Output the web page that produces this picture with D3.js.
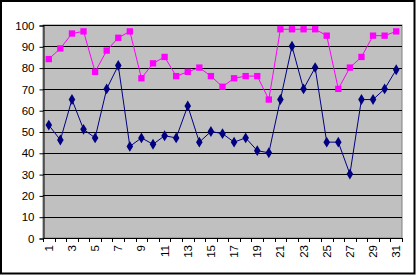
<!DOCTYPE html>
<html><head><meta charset="utf-8">
<script src="https://cdn.jsdelivr.net/npm/d3@7"></script>
<style>html,body{margin:0;padding:0;background:#fff;}svg{display:block;}</style>
</head><body>
<svg id="chart" width="418" height="276"></svg>
<script>
const categories = d3.range(1, 32).map(String);
const seriesPink = [84,89,96,97,78,88,94,97,75,82,85,76,78,80,76,71,75,76,76,65,98,98,98,98,95,70,80,85,95,95,97];
const seriesBlue = [53,46,65,51,47,70,81,43,47,44,48,47,62,45,50,49,45,47,41,40,65,90,70,80,45,45,30,65,65,70,79];
const yTicks = [0,10,20,30,40,50,60,70,80,90,100];

const svg = d3.select("#chart");
const L = 43, R = 402, T = 25, B = 238;

svg.append("rect").attr("x",1).attr("y",1).attr("width",413.5).attr("height",272.5)
  .attr("fill","#fff").attr("stroke","#000").attr("stroke-width",2);

const x = d3.scaleBand().domain(categories).range([L, R]).padding(0);
const y = d3.scaleLinear().domain([0,100]).range([B, T]);

svg.append("rect").attr("x",L).attr("y",T).attr("width",R-L).attr("height",B-T)
  .attr("fill","#C0C0C0").attr("stroke","#808080").attr("stroke-width",1);

// gridlines
svg.append("g").selectAll("line").data(yTicks.filter(d=>d>0)).join("line")
  .attr("x1",L).attr("x2",R).attr("y1",d=>Math.round(y(d))+0.5).attr("y2",d=>Math.round(y(d))+0.5)
  .attr("stroke","#000").attr("stroke-width",1);

// y axis
const yAxis = d3.axisLeft(y).tickValues(yTicks).tickSize(4).tickPadding(5).tickFormat(d3.format("d"));
const gy = svg.append("g").attr("transform",`translate(${L+0.5},0.5)`).call(yAxis);
gy.select(".domain").attr("stroke","#000");
gy.selectAll("text").attr("font-family","Liberation Sans, Arial, sans-serif").attr("font-size","11.5px").attr("fill","#000");
gy.selectAll("line").attr("stroke","#000");

// x axis: boundaries ticks
const boundaries = d3.range(0, 32).map(i => L + i * x.bandwidth());
const gx = svg.append("g");
gx.append("line").attr("x1",L).attr("x2",R).attr("y1",B+0.5).attr("y2",B+0.5).attr("stroke","#000");
gx.selectAll("line.t").data(boundaries).join("line").attr("class","t")
  .attr("x1",d=>Math.round(d)+0.5).attr("x2",d=>Math.round(d)+0.5).attr("y1",B).attr("y2",B+4).attr("stroke","#000");
gx.selectAll("text").data(categories.filter((c,i)=>i%2===0)).join("text")
  .attr("transform",d=>`translate(${x(d)+x.bandwidth()/2+4},${B+7}) rotate(-90)`)
  .attr("text-anchor","end")
  .attr("font-family","Liberation Sans, Arial, sans-serif").attr("font-size","11.5px").attr("fill","#000")
  .text(d=>d);

const cx = (d,i) => x(categories[i]) + x.bandwidth()/2;

function drawSeries(vals, color, shape) {
  const line = d3.line().x((d,i)=>cx(d,i)).y(d=>y(d));
  svg.append("path").datum(vals).attr("d",line).attr("fill","none").attr("stroke",color).attr("stroke-width",1);
  const sym = d3.symbol().type(shape).size(shape===d3.symbolSquare?40:34);
  svg.append("g").selectAll("path").data(vals).join("path")
    .attr("d",sym)
    .attr("transform",(d,i)=>`translate(${cx(d,i)},${y(d)})${shape===d3.symbolDiamond?" scale(1.05,1)":""}`)
    .attr("fill",color);
}
drawSeries(seriesBlue, "#000080", d3.symbolDiamond);
drawSeries(seriesPink, "#FF00FF", d3.symbolSquare);
</script>
</body></html>
